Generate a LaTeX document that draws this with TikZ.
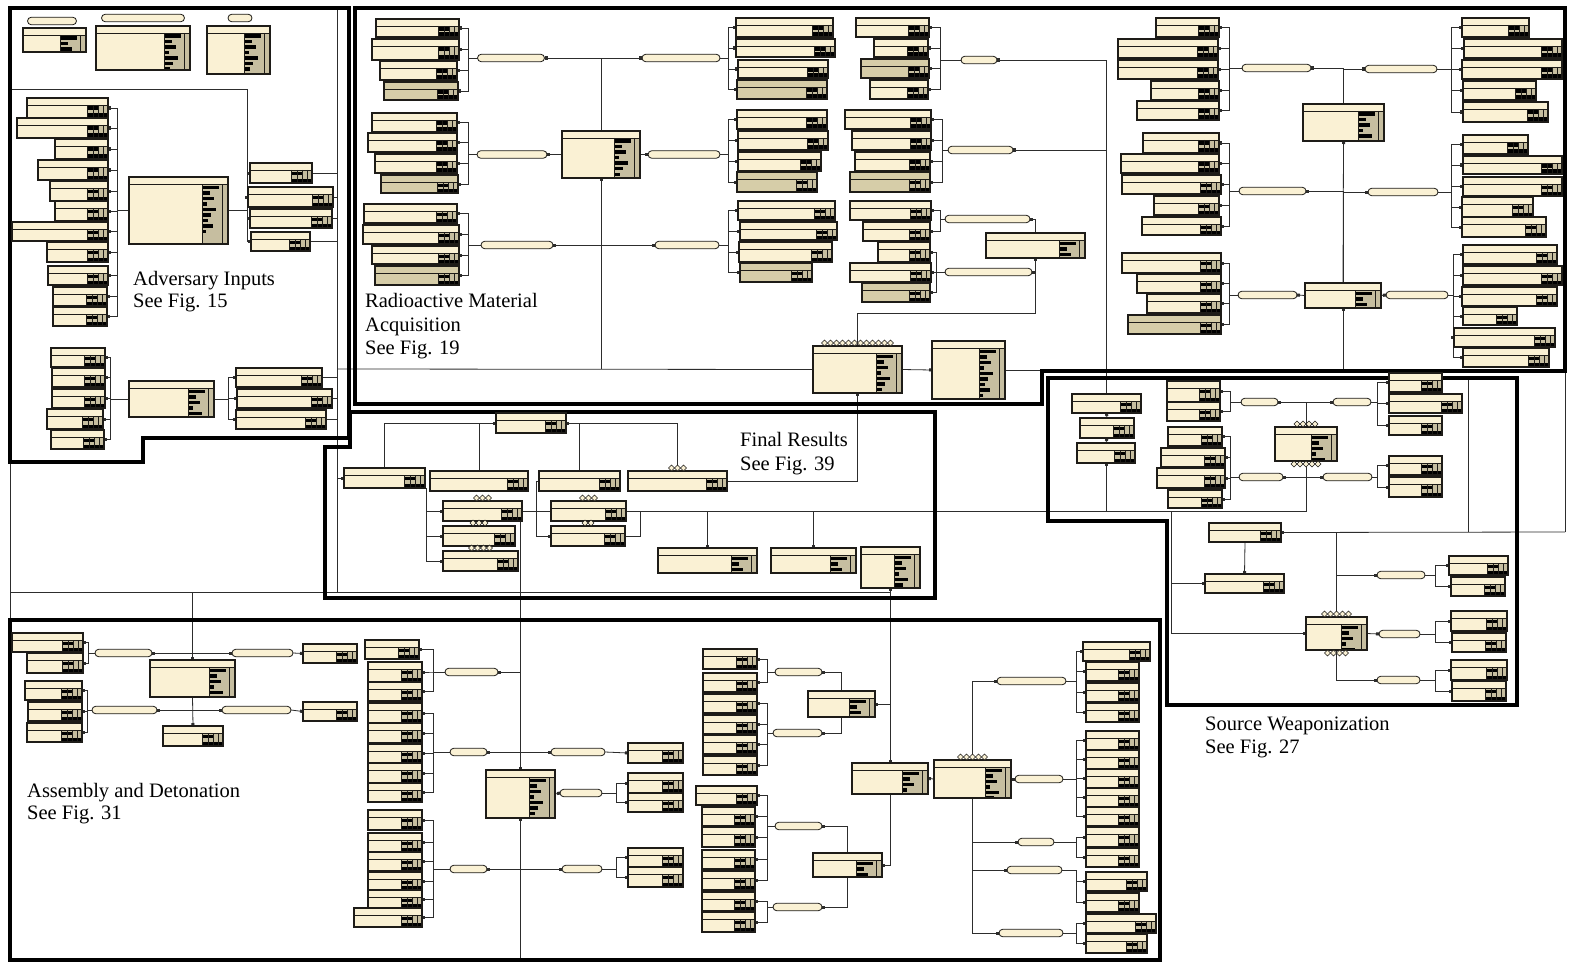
\documentclass[tikz,border=0pt]{standalone}
\usepackage{fontspec}
\setmainfont{Liberation Serif}
\usetikzlibrary{arrows.meta, calc, shapes.misc}
\definecolor{cream}{RGB}{250,241,212}
\definecolor{khaki}{RGB}{214,205,168}
\definecolor{panel}{RGB}{198,190,160}
\definecolor{boxline}{RGB}{30,28,24}
\definecolor{wirecol}{RGB}{45,45,45}
\pgfdeclarelayer{bg}
\pgfdeclarelayer{wires}
\pgfsetlayers{bg,wires,main}

\tikzset{
  cpt/.style={rectangle, draw=boxline, line width=1.1pt, fill=cream, inner sep=0pt, outer sep=0pt, anchor=north west,
    path picture={
      \fill[panel] ([xshift=-21pt,yshift=-7pt]path picture bounding box.north east) rectangle (path picture bounding box.south east);
      \fill[black] ([xshift=-21pt,yshift=1pt]path picture bounding box.south east) rectangle ([yshift=4.5pt]path picture bounding box.south east);
      \fill[black] ([xshift=-21pt,yshift=-8.5pt]path picture bounding box.north east) rectangle ([xshift=-10pt,yshift=-12pt]path picture bounding box.north east);
      \foreach \q in {5,10,15,21}
        \draw[boxline, line width=0.7pt] ([xshift=-\q pt,yshift=-7pt]path picture bounding box.north east) -- ([xshift=-\q pt]path picture bounding box.south east);
      \draw[boxline, line width=0.7pt] ([yshift=-7pt]path picture bounding box.north west) -- ([yshift=-7pt]path picture bounding box.north east);
    }},
  cptk/.style={cpt, fill=khaki},
  cptb/.style={cpt, path picture={
      \fill[panel] ([xshift=-26pt,yshift=-7pt]path picture bounding box.north east) rectangle (path picture bounding box.south east);
      \foreach \r/\l in {0/17,1/8,2/12,3/5,4/14,5/9,6/6,7/11,8/4}
        \fill[black] ([xshift=-26pt,yshift=-8.5pt-\r*5.5pt]path picture bounding box.north east) rectangle ([xshift=-26pt+\l pt,yshift=-12pt-\r*5.5pt]path picture bounding box.north east);
      \draw[boxline, line width=0.7pt] ([xshift=-26pt,yshift=-7pt]path picture bounding box.north east) -- ([xshift=-26pt]path picture bounding box.south east);
      \draw[boxline, line width=0.7pt] ([xshift=-6pt,yshift=-7pt]path picture bounding box.north east) -- ([xshift=-6pt]path picture bounding box.south east);
      \draw[boxline, line width=0.7pt] ([yshift=-7pt]path picture bounding box.north west) -- ([yshift=-7pt]path picture bounding box.north east);
    }},
  pill/.style={rounded rectangle, draw=boxline, line width=0.8pt, fill=cream, minimum height=7.5pt, inner sep=0pt, outer sep=0pt},
  link/.style={draw=wirecol, line width=0.8pt, -{Square[length=3pt,width=3pt]}},
  bus/.style={draw=wirecol, line width=0.8pt},
  frame/.style={draw=black, line width=4.2pt, line join=miter},
  lbl/.style={font=\fontsize{20.5}{24}\selectfont, inner sep=0pt, anchor=base west},
}

% table node: name, left, top, width, height
\newcommand{\cpt}[6][cpt]{\node[#1, minimum width=#5pt, minimum height=#6pt] (#2) at (#3,#4) {};}
% branch pill: name, centre x, centre y, width
\newcommand{\pil}[4]{\node[pill, minimum width=#4pt] (#1) at (#2,#3) {};}
% pill to a column of tables, through a spine at x
\newcommand{\fanL}[3]{\foreach \bx in {#3}{\draw[link] (#1.west) -- (#2,0 |- #1.west) |- (\bx.east);}}
\newcommand{\fanR}[3]{\foreach \bx in {#3}{\draw[link] (#1.east) -- (#2,0 |- #1.east) |- (\bx.west);}}
% row of small diamonds on a side of a table
\newcommand{\dia}[3][3]{\foreach \i in {1,...,#3}{\draw[boxline, fill=cream, line width=0.4pt] ([xshift=\i*6pt-#3*3pt-3pt, yshift=#1pt]#2) +(-3pt,0) -- +(0,3pt) -- +(3pt,0) -- +(0,-3pt) -- cycle;}}

\begin{document}
\begin{tikzpicture}[x=1pt, y=-1pt]
\begin{pgfonlayer}{bg}
  \fill[white] (0,0) rectangle (1569,963);
\end{pgfonlayer}
\useasboundingbox (0,0) rectangle (1569,963);

% ---------- legend
\pil{kpA}{52}{21}{49}
\pil{kpB}{143}{18}{83}
\pil{kpC}{240}{18}{24}
\cpt[cptb]{kA}{23}{28}{63}{24}
\cpt[cptb]{kB}{96}{26}{94}{44}
\cpt[cptb]{kC}{207}{26}{63}{48}

% ---------- adversary inputs
\cpt{aB1}{27}{98}{81}{20}
\cpt{aB2}{17}{118}{91}{20}
\cpt{aB3}{55}{139}{53}{20}
\cpt{aB4}{38}{160}{70}{20}
\cpt{aB5}{50}{181}{58}{20}
\cpt{aB6}{55}{201}{53}{20}
\cpt{aB7}{12}{222}{96}{19}
\cpt{aB8}{47}{242}{61}{20}
\cpt{aB9}{48}{266}{60}{19}
\cpt{aB10}{53}{287}{54}{19}
\cpt{aB11}{53}{307}{54}{19}
\cpt[cptb]{aC}{129}{177}{99}{67}
\cpt{aR1}{250}{163}{62}{20}
\cpt{aR2}{248}{187}{85}{20}
\cpt{aR3}{250}{209}{82}{19}
\cpt{aR4}{251}{232}{59}{19}
\cpt{aL1}{51}{348}{54}{19}
\cpt{aL2}{52}{368}{53}{19}
\cpt{aL3}{52}{389}{53}{19}
\cpt{aL4}{47}{409}{56}{20}
\cpt{aL5}{51}{430}{53}{19}
\cpt[cptb]{aD}{129}{381}{85}{36}
\cpt{aM1}{236}{368}{86}{19}
\cpt{aM2}{237}{389}{95}{19}
\cpt{aM3}{236}{410}{90}{19}

% ---------- radioactive material acquisition
\cpt{rA1}{376}{19}{83}{18}
\cpt{rA2}{372}{39}{87}{21}
\cpt{rA3}{380}{61}{77}{19}
\cpt[cptk]{rA4}{384}{82}{74}{18}
\cpt{rB1}{372}{113}{85}{19}
\cpt{rB2}{368}{133}{89}{19}
\cpt{rB3}{375}{154}{82}{19}
\cpt[cptk]{rB4}{381}{175}{77}{18}
\cpt{rC1}{364}{204}{93}{19}
\cpt{rC2}{363}{225}{96}{19}
\cpt{rC3}{372}{246}{87}{18}
\cpt[cptk]{rC4}{375}{266}{84}{19}
\pil{rpA}{511}{58}{67}
\pil{rpB}{512}{154.5}{70}
\pil{rpC}{517}{245}{72}
\cpt[cptb]{rMid}{562}{131}{78}{47}
\pil{rpD}{681}{58}{78}
\pil{rpE}{684}{154.5}{72}
\pil{rpF}{687}{245}{64}
\cpt{rD1}{736}{18}{97}{19}
\cpt{rD2}{736}{39}{99}{18}
\cpt{rD3}{738}{60}{90}{18}
\cpt[cptk]{rD4}{737}{80}{90}{19}
\cpt{rE1}{737}{110}{90}{19}
\cpt{rE2}{738}{131}{90}{19}
\cpt{rE3}{738}{152}{83}{19}
\cpt[cptk]{rE4}{737}{172}{80}{20}
\cpt{rF1}{738}{201}{97}{19}
\cpt{rF2}{740}{222}{97}{18}
\cpt{rF3}{739}{242}{93}{20}
\cpt[cptk]{rF4}{740}{263}{72}{19}
\cpt{rG1}{856}{18}{73}{19}
\cpt{rG2}{874}{39}{54}{18}
\cpt[cptk]{rG3}{861}{59}{68}{19}
\cpt{rG4}{870}{80}{58}{19}
\cpt{rH1}{845}{110}{86}{19}
\cpt{rH2}{852}{131}{79}{19}
\cpt{rH3}{855}{152}{75}{19}
\cpt[cptk]{rH4}{850}{172}{80}{20}
\cpt{rI1}{850}{201}{81}{19}
\cpt{rI2}{863}{222}{67}{19}
\cpt{rI3}{878}{242}{52}{20}
\cpt{rI4}{850}{263}{81}{19}
\cpt[cptk]{rI5}{862}{283}{68}{19}
\pil{rpG}{979}{60}{36}
\pil{rpH}{980.5}{150}{65}
\pil{rpI1}{987.5}{219}{85}
\pil{rpI2}{988.5}{272}{87}
\cpt[cptb]{rJ}{986}{233}{99}{25}
\cpt[cptb]{rType}{813}{346}{89}{47}
\cpt[cptb]{rCost}{932}{341}{73}{58}
\cpt{rK1}{1156}{18}{63}{19}
\cpt{rK2}{1118}{39}{100}{19}
\cpt{rK3}{1118}{60}{100}{19}
\cpt{rK4}{1151}{81}{68}{19}
\cpt{rK5}{1137}{101}{82}{19}
\cpt{rL1}{1143}{133}{76}{20}
\cpt{rL2}{1121}{154}{98}{19}
\cpt{rL3}{1122}{175}{99}{19}
\cpt{rL4}{1154}{196}{65}{19}
\cpt{rL5}{1142}{217}{79}{18}
\cpt{rM1}{1122}{253}{99}{20}
\cpt{rM2}{1137}{274}{84}{19}
\cpt{rM3}{1147}{294}{74}{19}
\cpt[cptk]{rM4}{1128}{315}{93}{19}
\pil{rpK}{1276.5}{68}{69}
\pil{rpL}{1272.5}{191}{67}
\pil{rpM}{1267.5}{295}{59}
\cpt[cptb]{rO}{1303}{104}{81}{37}
\cpt[cptb]{rN}{1305}{283}{76}{25}
\pil{rpP}{1401}{69}{72}
\pil{rpQ}{1403}{192}{70}
\pil{rpN}{1417}{295}{62}
\cpt{rP1}{1462}{18}{67}{19}
\cpt{rP2}{1464}{39}{98}{19}
\cpt{rP3}{1462}{60}{100}{19}
\cpt{rP4}{1463}{81}{73}{19}
\cpt{rP5}{1463}{102}{85}{20}
\cpt{rQ1}{1463}{135}{65}{19}
\cpt{rQ2}{1463}{156}{99}{18}
\cpt{rQ3}{1463}{177}{99}{19}
\cpt{rQ4}{1462}{197}{71}{20}
\cpt{rQ5}{1462}{217}{84}{20}
\cpt{rR1}{1463}{245}{94}{19}
\cpt{rR2}{1463}{266}{99}{19}
\cpt{rR3}{1462}{287}{95}{19}
\cpt{rR4}{1463}{307}{54}{18}
\cpt{rR5}{1454}{328}{101}{19}
\cpt{rR6}{1463}{348}{86}{19}

% ---------- source weaponization
\cpt{sS1}{1072}{394}{69}{19}
\cpt{sS2}{1080}{418}{54}{20}
\cpt{sS3}{1077}{443}{58}{20}
\cpt{sT1}{1167}{381}{53}{21}
\cpt{sT2}{1167}{402}{53}{19}
\cpt{sT3}{1168}{427}{54}{19}
\cpt{sT4}{1161}{448}{64}{19}
\cpt{sT5}{1157}{468}{68}{20}
\cpt{sT6}{1168}{490}{54}{18}
\pil{spU1}{1259.5}{402}{37}
\pil{spU2}{1352}{402}{38}
\pil{spU3}{1261}{477}{44}
\pil{spU4}{1347.5}{477}{49}
\cpt[cptb]{sW}{1275}{427}{62}{34}
\cpt{sV1}{1389}{373}{53}{19}
\cpt{sV2}{1389}{394}{73}{19}
\cpt{sV3}{1389}{416}{53}{19}
\cpt{sV4}{1389}{456}{53}{19}
\cpt{sV5}{1389}{477}{53}{20}
\cpt{sX1}{1209}{523}{72}{19}
\cpt{sX2}{1205}{574}{79}{19}
\cpt[cptb]{sZ}{1306}{617}{61}{33}
\pil{spY1}{1401}{575}{48}
\pil{spY2}{1399.5}{634}{41}
\pil{spY3}{1398.5}{680}{43}
\cpt{sZ1}{1449}{556}{59}{19}
\cpt{sZ2}{1451}{577}{54}{19}
\cpt{sZ3}{1451}{611}{56}{20}
\cpt{sZ4}{1452}{633}{54}{19}
\cpt{sZ5}{1451}{660}{56}{20}
\cpt{sZ6}{1452}{681}{54}{20}

% ---------- final results
\cpt{fTop}{496}{413}{70}{20}
\cpt{fA}{344}{468}{81}{20}
\cpt{fB}{430}{471}{98}{20}
\cpt{fC}{539}{471}{81}{20}
\cpt{fD}{628}{471}{99}{20}
\cpt{fE}{443}{501}{79}{20}
\cpt{fF}{443}{526}{72}{20}
\cpt{fG}{443}{551}{75}{20}
\cpt{fH}{551}{501}{75}{20}
\cpt{fI}{551}{526}{74}{20}
\cpt[cptb]{fJ}{658}{548}{99}{25}
\cpt[cptb]{fK}{771}{548}{85}{25}
\cpt[cptb]{fL}{861}{547}{59}{41}

% ---------- assembly and detonation
\cpt{dS1}{12}{633}{71}{19}
\cpt{dS2}{27}{653}{56}{20}
\cpt{dS3}{25}{681}{57}{19}
\cpt{dS4}{28}{702}{54}{19}
\cpt{dS5}{27}{723}{55}{19}
\pil{dp1}{123.5}{653}{57}
\pil{dp3}{124.5}{710}{65}
\pil{dp2}{262.5}{653}{61}
\pil{dp4}{256.5}{710}{69}
\cpt[cptb]{dC}{150}{660}{85}{37}
\cpt{dD}{163}{726}{60}{20}
\cpt{dB1}{303}{644}{54}{19}
\cpt{dB2}{303}{702}{54}{19}
\cpt{dE1}{365}{640}{54}{19}
\cpt{dE2}{368}{662}{54}{20}
\cpt{dE3}{368}{682}{54}{19}
\cpt{dF1}{368}{703}{54}{20}
\cpt{dF2}{368}{723}{54}{20}
\cpt{dF3}{368}{744}{54}{19}
\cpt{dF4}{368}{763}{54}{20}
\cpt{dF5}{368}{783}{54}{19}
\cpt{dJ1}{368}{810}{54}{20}
\cpt{dJ2}{368}{833}{54}{19}
\cpt{dJ3}{368}{852}{54}{19}
\cpt{dJ4}{368}{872}{54}{18}
\cpt{dJ5}{368}{890}{54}{18}
\cpt{dJ6}{354}{908}{68}{19}
\pil{dpE}{471.5}{672}{53}
\pil{dpF}{468.5}{752}{37}
\pil{dpJ}{468.5}{869}{37}
\pil{dpG}{578}{752}{54}
\pil{dpI}{581}{793}{42}
\pil{dpK}{582}{869}{40}
\cpt[cptb]{dH}{486}{770}{69}{48}
\cpt{dG1}{628}{743}{55}{20}
\cpt{dI1}{628}{773}{55}{20}
\cpt{dI2}{628}{793}{55}{19}
\cpt{dK1}{628}{848}{55}{19}
\cpt{dK2}{628}{867}{55}{20}
\cpt{dL1}{703}{649}{54}{20}
\cpt{dL2}{703}{673}{54}{19}
\cpt{dL3}{703}{694}{54}{19}
\cpt{dL4}{703}{715}{54}{19}
\cpt{dL5}{703}{735}{54}{19}
\cpt{dL6}{703}{756}{54}{19}
\cpt{dN1}{696}{786}{61}{19}
\cpt{dN2}{702}{807}{53}{19}
\cpt{dN3}{702}{827}{53}{20}
\cpt{dN4}{702}{850}{53}{19}
\cpt{dN5}{702}{871}{53}{19}
\cpt{dN6}{702}{892}{53}{19}
\cpt{dN7}{702}{912}{53}{20}
\pil{dpL1}{798.5}{672}{47}
\pil{dpL2}{797.5}{733}{49}
\pil{dpN1}{798.5}{826}{47}
\pil{dpN2}{797.5}{907}{49}
\cpt[cptb]{dM}{808}{691}{67}{26}
\cpt[cptb]{dO}{813}{853}{69}{24}
\cpt[cptb]{dA}{852}{763}{76}{31}
\cpt[cptb]{dT}{934}{760}{77}{38}
\pil{dq1}{1031.5}{681}{69}
\pil{dq2}{1039}{779}{48}
\pil{dq3}{1036}{842}{36}
\pil{dq4}{1034.5}{870}{55}
\pil{dq5}{1031}{933}{64}
\cpt{dU1}{1083}{642}{67}{19}
\cpt{dU2}{1086}{662}{53}{19}
\cpt{dU3}{1086}{683}{53}{19}
\cpt{dU4}{1086}{703}{53}{19}
\cpt{dV1}{1086}{731}{53}{19}
\cpt{dV2}{1086}{750}{53}{19}
\cpt{dV3}{1086}{769}{53}{19}
\cpt{dV4}{1086}{788}{53}{19}
\cpt{dV5}{1086}{807}{53}{19}
\cpt{dW1}{1086}{827}{53}{20}
\cpt{dW2}{1086}{848}{53}{19}
\cpt{dX1}{1086}{872}{61}{19}
\cpt{dX2}{1086}{893}{53}{19}
\cpt{dY1}{1086}{914}{70}{19}
\cpt{dY2}{1086}{934}{61}{19}

% diamonds on some tables
\dia{fD.north}{3}
\dia{fE.north}{3}
\dia{fF.north}{3}
\dia{fG.north}{4}
\dia{fH.north}{3}
\dia{fI.north}{2}
\dia{rType.north}{12}
\dia{sW.north}{4}
\dia[-3]{sW.south}{5}
\dia{sZ.north}{5}
\dia[-3]{sZ.south}{4}
\dia{dT.north}{5}

% ---------- region titles
\node[lbl] (tAdv1) at (133,285) {Adversary Inputs};
\node[lbl] (tAdv2) at (133,307) {See Fig. 15};
\node[lbl] (tRad1) at (365,307) {Radioactive Material};
\node[lbl] (tRad2) at (365,331) {Acquisition};
\node[lbl] (tRad3) at (365,354) {See Fig. 19};
\node[lbl] (tFin1) at (740,446) {Final Results};
\node[lbl] (tFin2) at (740,470) {See Fig. 39};
\node[lbl] (tSrc1) at (1205,730) {Source Weaponization};
\node[lbl] (tSrc2) at (1205,753) {See Fig. 27};
\node[lbl] (tAsm1) at (27,797) {Assembly and Detonation};
\node[lbl] (tAsm2) at (27,819) {See Fig. 31};

% ---------- connectors
\begin{pgfonlayer}{wires}
\coordinate (aIn) at (12,89);
\coordinate (busT) at (337,10);
\coordinate (busB) at (337,592);
\coordinate (busM) at (337,369);
\coordinate (lft) at (10,592);
\coordinate (lftT) at (10,462);
\coordinate (lftB) at (10,620);
\coordinate (jN) at (1343,371);
\coordinate (jF) at (1106,511);
\coordinate (jS) at (1171,511);
\coordinate (jBot) at (520.5,958);
\coordinate (eR) at (1565,532);
\coordinate (eT) at (1565,372);
\coordinate (mB) at (1468,532);
\coordinate (mT) at (1468,378);

% adversary
\fanL{aC}{117}{aB1,aB2,aB3,aB4,aB5,aB6,aB7,aB8,aB9,aB10,aB11}
\fanR{aC}{247}{aR1,aR2,aR3,aR4}
\fanL{aD}{110}{aL1,aL2,aL3,aL4,aL5}
\fanR{aD}{228}{aM1,aM2,aM3}
\draw[bus] (aIn) -| ([xshift=-3pt]aR1.west);
\draw[bus] (busT) -- (busB);
\foreach \bx in {aR1,aR2,aR3,aR4,aM1,aM2,aM3}
  \draw[bus] (\bx.east) -- (\bx.east -| busT);
\draw[bus] (busB) -- (lft);
\draw[bus] (lftT) -- (lftB);

% radioactive material
\draw[link] (rMid.north) |- (rpA.east);
\draw[link] (rMid.north) |- (rpD.west);
\draw[link] (rMid.west) -- (rpB.east);
\draw[link] (rMid.east) -- (rpE.west);
\draw[link] (rMid.south) |- (rpC.east);
\draw[link] (rMid.south) |- (rpF.west);
\fanL{rpA}{468}{rA1,rA2,rA3,rA4}
\fanL{rpB}{468}{rB1,rB2,rB3,rB4}
\fanL{rpC}{468}{rC1,rC2,rC3,rC4}
\fanR{rpD}{728}{rD1,rD2,rD3,rD4}
\fanR{rpE}{728}{rE1,rE2,rE3,rE4}
\fanR{rpF}{728}{rF1,rF2,rF3,rF4}
\draw[link] (busM -| rMid.south) -- (rMid.south);
\draw[bus] (busM) -- (rType.west);
\fanL{rpG}{940}{rG1,rG2,rG3,rG4}
\fanL{rpH}{942}{rH1,rH2,rH3,rH4}
\fanL{rpI1}{940}{rI1,rI2}
\fanL{rpI2}{936}{rI3,rI4,rI5}
\draw[link] (sS1.north) |- (rpG.east);
\draw[link] (sS1.north) |- (rpH.east);
\draw[link] (rJ.north) |- (rpI1.east);
\draw[link] (rJ.south) |- (rpI2.east);
\draw[link] (rType.north) -- ++(0,-33) -| (rJ.south);
\draw[link] (rType.east) -- (rCost.west);
\draw[bus] (rCost.east) -- ++(37,0);
\draw[link] (fD.east) -| (rType.south);
\fanL{rpK}{1229}{rK1,rK2,rK3,rK4,rK5}
\fanL{rpL}{1229}{rL1,rL2,rL3,rL4,rL5}
\fanL{rpM}{1229}{rM1,rM2,rM3,rM4}
\fanR{rpP}{1451}{rP1,rP2,rP3,rP4,rP5}
\fanR{rpQ}{1451}{rQ1,rQ2,rQ3,rQ4,rQ5}
\fanR{rpN}{1453}{rR1,rR2,rR3,rR4,rR5,rR6}
\draw[link] (rO.north) |- (rpK.east);
\draw[link] (rO.north) |- (rpP.west);
\draw[link] (rN.north) -- (rO.south);
\draw[link] (rN.north) |- (rpL.east);
\draw[link] (rN.north) |- (rpQ.west);
\draw[link] (rN.west) -- (rpM.east);
\draw[link] (rN.east) -- (rpN.west);
\draw[link] (jN) -- (rN.south);

% source weaponization
\draw[link] (sS2.north) -- (sS1.south);
\draw[link] (sS3.north) -- (sS2.south);
\draw[link] (jF) -- (sS3.south);
\fanL{spU1}{1230}{sT1,sT2}
\fanR{spU2}{1377}{sV1,sV2,sV3}
\fanL{spU3}{1230}{sT3,sT4,sT5,sT6}
\fanR{spU4}{1377}{sV4,sV5}
\draw[link] (sW.north) |- (spU1.east);
\draw[link] (sW.north) |- (spU2.west);
\draw[link] (sW.south) |- (spU3.east);
\draw[link] (sW.south) |- (spU4.west);
\draw[bus] (sW.south) |- (fE.east);
\draw[link] (sZ.north) |- (sX1.east);
\draw[link] (sZ.north |- spY1.west) -- (spY1.west);
\draw[link] (sZ.east) -- (spY2.west);
\draw[link] (sZ.south) |- (spY3.west);
\draw[link] (sX1.south) -- (sX2.north);
\draw[link] (jS) |- (sX2.west);
\draw[link] (jS) |- (sZ.west);
\fanR{spY1}{1435}{sZ1,sZ2}
\fanR{spY2}{1435}{sZ3,sZ4}
\fanR{spY3}{1435}{sZ5,sZ6}
\draw[bus] (eR) -- (sX1.east);
\draw[bus] (eR) -- (eT);
\draw[bus] (mB) -- (mT);

% final results
\draw[link] (fA.north) |- (fTop.west);
\draw[link] (fB.north) |- (fTop.west);
\draw[link] (fC.north) |- (fTop.east);
\draw[link] (fD.north) |- (fTop.east);
\foreach \bx in {fE,fF,fG}
  \draw[link] ([xshift=1pt]fA.south east) |- (\bx.west);
\draw[link] (fC.west) -- ++(-3,0) |- (fI.west);
\draw[bus] (fI.east) -- ++(15,0) |- (fH.east);
\foreach \bx in {fJ,fK}
  \draw[link] (\bx.north |- jF) -- (\bx.north);
\draw[link] (fA.west -| busT) -- (fA.west);
\draw[link] (busB) -| (fL.south);

% assembly and detonation
\fanL{dp1}{88}{dS1,dS2}
\fanL{dp3}{87}{dS3,dS4,dS5}
\draw[link] (busB) -| (dC.north);
\draw[link] (dC.north |- dp1.east) -- (dp1.east);
\draw[link] (dC.north |- dp2.west) -- (dp2.west);
\draw[link] (dp2.east) -- (dB1.west);
\draw[link] (dC.south) -- (dD.north);
\draw[link] (dC.south |- dp3.east) -- (dp3.east);
\draw[link] (dC.south |- dp4.west) -- (dp4.west);
\draw[link] (dp4.east) -- (dB2.west);
\draw[link] (fE.east) -| (dH.north);
\draw[link] (jBot) -- (dH.south);
\draw[link] (dH.north |- dpE.east) -- (dpE.east);
\draw[link] (dH.north |- dpF.east) -- (dpF.east);
\draw[link] (dH.north |- dpG.west) -- (dpG.west);
\draw[link] (dH.south |- dpJ.east) -- (dpJ.east);
\draw[link] (dH.south |- dpK.west) -- (dpK.west);
\fanL{dpE}{433}{dE1,dE2,dE3}
\fanL{dpF}{433}{dF1,dF2,dF3,dF4,dF5}
\fanL{dpJ}{433}{dJ1,dJ2,dJ3,dJ4,dJ5,dJ6}
\draw[link] (dpG.east) -- (dG1.west);
\draw[link] (dH.east) -- (dpI.west);
\fanR{dpI}{616}{dI1,dI2}
\fanR{dpK}{616}{dK1,dK2}
\fanL{dpL1}{767}{dL1,dL2}
\fanL{dpL2}{767}{dL3,dL4,dL5,dL6}
\fanL{dpN1}{767}{dN1,dN2,dN3,dN4,dN5}
\fanL{dpN2}{767}{dN6,dN7}
\draw[link] (dM.north) |- (dpL1.east);
\draw[link] (dM.south) |- (dpL2.east);
\draw[link] (dO.north) |- (dpN1.east);
\draw[link] (dO.south) |- (dpN2.east);
\draw[link] (busB) -| (dA.north);
\draw[link] (dA.north) |- (dM.east);
\draw[link] (dA.south) |- (dO.east);
\draw[link] (dT.west) -- (dA.east);
\draw[link] (dT.north) |- (dq1.west);
\draw[link] (dT.east) -- (dq2.west);
\draw[link] (dT.south) |- (dq3.west);
\draw[link] (dT.south) |- (dq4.west);
\draw[link] (dT.south) |- (dq5.west);
\fanR{dq1}{1076}{dU1,dU2,dU3,dU4}
\fanR{dq2}{1076}{dV1,dV2,dV3,dV4,dV5}
\fanR{dq3}{1076}{dW1,dW2}
\fanR{dq4}{1076}{dX1,dX2}
\fanR{dq5}{1076}{dY1,dY2}

% region frames
\draw[frame] (10,8) -- (349,8) -- (349,438) -- (143,438) -- (143,462) -- (10,462) -- cycle;
\draw[frame] (355,8) -- (1565,8) -- (1565,371) -- (1042,371) -- (1042,404) -- (355,404) -- cycle;
\draw[frame] (325,447) -- (350,447) -- (350,412) -- (935,412) -- (935,598) -- (325,598) -- cycle;
\draw[frame] (1048,378) -- (1517,378) -- (1517,705) -- (1167,705) -- (1167,521) -- (1048,521) -- cycle;
\draw[frame] (10,620) -- (1160,620) -- (1160,960) -- (10,960) -- cycle;
\end{pgfonlayer}
\end{tikzpicture}
\end{document}
